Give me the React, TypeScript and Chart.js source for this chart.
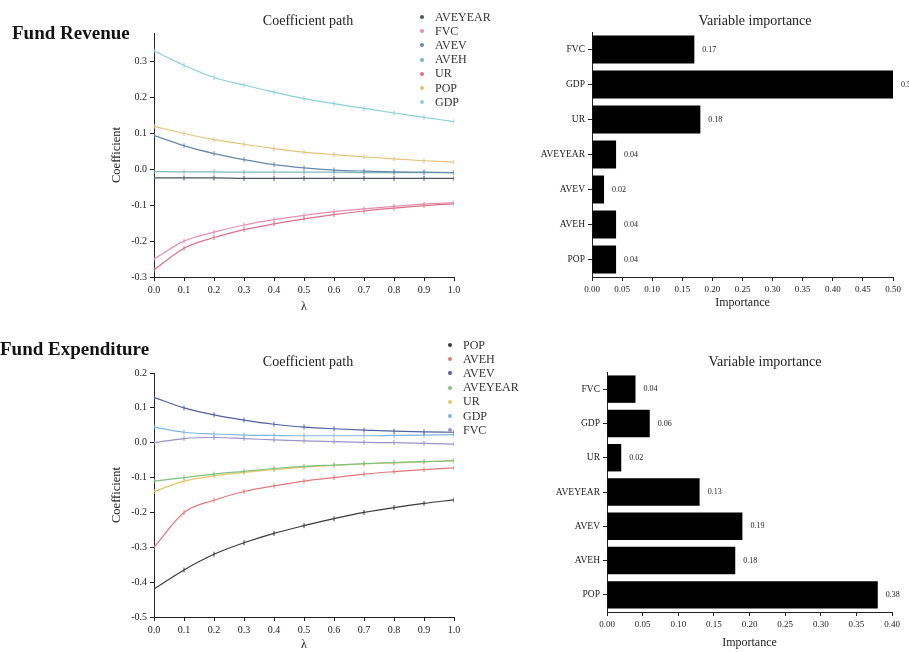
import React, { useEffect, useRef } from 'react';
import { Chart, registerables } from 'chart.js';
Chart.register(...registerables);

const SERIF = '"Liberation Serif", "Times New Roman", serif';

// ---- shared lambda grid ----
const lambdas = [0, 0.1, 0.2, 0.3, 0.4, 0.5, 0.6, 0.7, 0.8, 0.9, 1.0];

// ---- Fund Revenue: coefficient paths ----
const revNames = ['AVEYEAR', 'FVC', 'AVEV', 'AVEH', 'UR', 'POP', 'GDP'];
const revColors = ['#4b5563', '#e58fae', '#6788ab', '#7fb9b6', '#d9728a', '#e3c27e', '#8ccfdc'];
const revAVEYEAR = [-0.024, -0.024, -0.024, -0.025, -0.025, -0.025, -0.025, -0.025, -0.025, -0.025, -0.025];
const revFVC = [-0.25, -0.2, -0.175, -0.155, -0.14, -0.128, -0.118, -0.11, -0.103, -0.097, -0.093];
const revAVEV = [0.095, 0.066, 0.044, 0.027, 0.013, 0.004, -0.002, -0.005, -0.007, -0.008, -0.009];
const revAVEH = [-0.006, -0.007, -0.007, -0.008, -0.008, -0.008, -0.008, -0.009, -0.009, -0.009, -0.009];
const revUR = [-0.28, -0.22, -0.19, -0.168, -0.152, -0.138, -0.126, -0.116, -0.108, -0.101, -0.096];
const revPOP = [0.12, 0.1, 0.083, 0.07, 0.058, 0.048, 0.041, 0.035, 0.029, 0.024, 0.02];
const revGDP = [0.33, 0.29, 0.256, 0.235, 0.215, 0.197, 0.183, 0.17, 0.157, 0.145, 0.133];
const revSeries = [revAVEYEAR, revFVC, revAVEV, revAVEH, revUR, revPOP, revGDP];
const revYTicks = [-0.3, -0.2, -0.1, 0.0, 0.1, 0.2, 0.3];

// ---- Fund Expenditure: coefficient paths ----
const expNames = ['POP', 'AVEH', 'AVEV', 'AVEYEAR', 'UR', 'GDP', 'FVC'];
const expColors = ['#3a3a3a', '#e07a7a', '#4f62a0', '#80c080', '#e6c76c', '#7fb6de', '#9c92c9'];
const expPOP = [-0.42, -0.365, -0.32, -0.287, -0.26, -0.238, -0.218, -0.2, -0.186, -0.174, -0.164];
const expAVEH = [-0.3, -0.2, -0.165, -0.14, -0.124, -0.11, -0.1, -0.09, -0.083, -0.077, -0.072];
const expAVEV = [0.13, 0.1, 0.08, 0.065, 0.053, 0.045, 0.04, 0.036, 0.033, 0.031, 0.03];
const expAVEYEAR = [-0.11, -0.1, -0.09, -0.082, -0.074, -0.068, -0.064, -0.06, -0.057, -0.054, -0.052];
const expUR = [-0.14, -0.11, -0.095, -0.085, -0.077, -0.07, -0.065, -0.061, -0.058, -0.055, -0.05];
const expGDP = [0.045, 0.03, 0.025, 0.022, 0.021, 0.02, 0.02, 0.02, 0.021, 0.022, 0.023];
const expFVC = [0.0, 0.012, 0.015, 0.012, 0.008, 0.005, 0.003, 0.001, 0.0, -0.002, -0.004];
const expSeries = [expPOP, expAVEH, expAVEV, expAVEYEAR, expUR, expGDP, expFVC];
const expYTicks = [-0.5, -0.4, -0.3, -0.2, -0.1, 0.0, 0.1, 0.2];

// ---- Variable importance ----
const revImpNames = ['FVC', 'GDP', 'UR', 'AVEYEAR', 'AVEV', 'AVEH', 'POP'];
const revImpValues = [0.17, 0.5, 0.18, 0.04, 0.02, 0.04, 0.04];
const expImpNames = ['FVC', 'GDP', 'UR', 'AVEYEAR', 'AVEV', 'AVEH', 'POP'];
const expImpValues = [0.04, 0.06, 0.02, 0.13, 0.19, 0.18, 0.38];

const axisGrid = { display: true, drawOnChartArea: false, drawTicks: true, tickLength: 4, color: '#222' };
const axisBorder = { display: true, color: '#222', width: 1 };

function lineConfig(names: string[], colors: string[], series: number[][], yMin: number, yMax: number,
  yTicks: number[], pad: any, xHeight: number, yWidth: number, xTitlePad: number) {
  return {
    type: 'line',
    data: {
      datasets: names.map((n, i) => ({
        label: n,
        data: lambdas.map((l, j) => ({ x: l, y: series[i][j] })),
        borderColor: colors[i],
        backgroundColor: colors[i],
        borderWidth: 1.2,
        pointStyle: 'line',
        rotation: 90,
        pointRadius: 2.5,
        pointBorderWidth: 1,
        pointBorderColor: colors[i],
        cubicInterpolationMode: 'monotone',
      })),
    },
    options: {
      responsive: false,
      animation: false,
      layout: { padding: pad },
      plugins: { legend: { display: false }, tooltip: { enabled: false } },
      scales: {
        x: {
          type: 'linear', min: 0, max: 1,
          grid: axisGrid, border: axisBorder,
          afterFit: (s: any) => { s.height = xHeight; },
          afterBuildTicks: (s: any) => { s.ticks = lambdas.map((v) => ({ value: v })); },
          ticks: { color: '#222', font: { family: SERIF, size: 10 }, padding: 3, maxRotation: 0,
            callback: (v: any) => Number(v).toFixed(1) },
          title: { display: true, text: 'λ', color: '#222', font: { family: SERIF, size: 12 }, padding: { top: 0, bottom: xTitlePad } },
        },
        y: {
          type: 'linear', min: yMin, max: yMax,
          grid: axisGrid, border: axisBorder,
          afterFit: (s: any) => { s.width = yWidth; },
          afterBuildTicks: (s: any) => { s.ticks = yTicks.map((v) => ({ value: v })); },
          ticks: { color: '#222', font: { family: SERIF, size: 10 }, padding: 3,
            callback: (v: any) => Number(v).toFixed(1) },
          title: { display: true, text: 'Coefficient', color: '#222', font: { family: SERIF, size: 12.5 }, padding: { top: 9, bottom: 0 } },
        },
      },
    },
  };
}

const barLabelPlugin = {
  id: 'barLabels',
  afterDatasetsDraw(chart: any) {
    const ctx = chart.ctx;
    const meta = chart.getDatasetMeta(0);
    const vals = chart.data.datasets[0].data;
    ctx.save();
    ctx.font = `8px ${SERIF}`;
    ctx.fillStyle = '#222';
    ctx.textBaseline = 'middle';
    meta.data.forEach((el: any, i: number) => {
      ctx.fillText(Number(vals[i]).toFixed(2), el.x + 8, el.y);
    });
    ctx.restore();
  },
};

function barConfig(names: string[], values: number[], xMax: number, pad: any, xHeight: number, yWidth: number, titlePad: number) {
  return {
    type: 'bar',
    data: {
      labels: names,
      datasets: [{ label: 'Importance', data: values, backgroundColor: '#000', borderColor: '#000', borderWidth: 0,
        categoryPercentage: 0.8, barPercentage: 1.0 }],
    },
    options: {
      indexAxis: 'y',
      responsive: false,
      animation: false,
      layout: { padding: pad },
      plugins: { legend: { display: false }, tooltip: { enabled: false } },
      scales: {
        x: {
          type: 'linear', min: 0, max: xMax,
          grid: axisGrid, border: axisBorder,
          afterFit: (s: any) => { s.height = xHeight; },
          ticks: { stepSize: 0.05, color: '#222', font: { family: SERIF, size: 9 }, padding: 3, maxRotation: 0, autoSkip: false,
            callback: (v: any) => Number(v).toFixed(2) },
          title: { display: true, text: 'Importance', color: '#222', font: { family: SERIF, size: 12 }, padding: { top: 0, bottom: titlePad } },
        },
        y: {
          grid: { ...axisGrid, offset: false },
          border: axisBorder,
          afterFit: (s: any) => { s.width = yWidth; },
          ticks: { color: '#222', font: { family: SERIF, size: 9.5 }, padding: 3 },
        },
      },
    },
    plugins: [barLabelPlugin],
  };
}

function ChartBox({ left, top, width, height, config }: any) {
  const ref = useRef<HTMLCanvasElement>(null);
  useEffect(() => {
    const chart = new Chart(ref.current as HTMLCanvasElement, config);
    return () => chart.destroy();
  }, []);
  return (
    <canvas ref={ref} width={width} height={height}
      style={{ position: 'absolute', left, top, width, height }} />
  );
}

function Legend({ names, colors, left, top, step }: any) {
  return (
    <div style={{ position: 'absolute', left, top }}>
      {names.map((n: string, i: number) => (
        <div key={n} style={{ position: 'absolute', left: 0, top: i * step, height: 12, whiteSpace: 'nowrap',
          display: 'flex', alignItems: 'center', fontFamily: SERIF, fontSize: 12, color: '#333' }}>
          <span style={{ display: 'inline-block', width: 4, height: 4, borderRadius: 2, background: colors[i], marginRight: 11 }} />
          {n}
        </div>
      ))}
    </div>
  );
}

function Label({ text, cx, cy, size, bold }: any) {
  return (
    <div style={{ position: 'absolute', left: cx - 150, top: cy - size * 0.6, width: 300, textAlign: 'center',
      fontFamily: SERIF, fontSize: size, fontWeight: bold ? 'bold' : 'normal', color: '#222', whiteSpace: 'nowrap', lineHeight: 1.2 }}>
      {text}
    </div>
  );
}

export default function App() {
  return (
    <div style={{ position: 'absolute', left: 0, top: 0, width: 909, height: 652, background: '#fff', overflow: 'hidden' }}>
      <ChartBox left={100} top={0} width={370} height={320}
        config={lineConfig(revNames, revColors, revSeries, -0.3, 0.38, revYTicks, { top: 33, right: 16, left: 0, bottom: 0 }, 43, 54, 6)} />
      <ChartBox left={500} top={0} width={409} height={320}
        config={barConfig(revImpNames, revImpValues, 0.5, { top: 32, right: 16, left: 0, bottom: 0 }, 43, 92, 10)} />
      <ChartBox left={100} top={330} width={370} height={322}
        config={lineConfig(expNames, expColors, expSeries, -0.5, 0.2, expYTicks, { top: 43, right: 16, left: 0, bottom: 0 }, 35, 54, 0)} />
      <ChartBox left={500} top={330} width={409} height={322}
        config={barConfig(expImpNames, expImpValues, 0.4, { top: 42, right: 17, left: 0, bottom: 0 }, 40, 107, 2)} />

      <div style={{ position: 'absolute', left: 12, top: 22, fontFamily: SERIF, fontSize: 19, fontWeight: 'bold', color: '#111', whiteSpace: 'nowrap' }}>Fund Revenue</div>
      <div style={{ position: 'absolute', left: 0, top: 338, fontFamily: SERIF, fontSize: 19, fontWeight: 'bold', color: '#111', whiteSpace: 'nowrap' }}>Fund Expenditure</div>

      <Label text="Coefficient path" cx={308} cy={21} size={14} />
      <Label text="Variable importance" cx={755} cy={21} size={14} />
      <Label text="Coefficient path" cx={308} cy={362} size={14} />
      <Label text="Variable importance" cx={765} cy={362} size={14} />

      <Legend names={revNames} colors={revColors} left={420} top={11} step={14.2} />
      <Legend names={expNames} colors={expColors} left={448} top={339} step={14.2} />
    </div>
  );
}
